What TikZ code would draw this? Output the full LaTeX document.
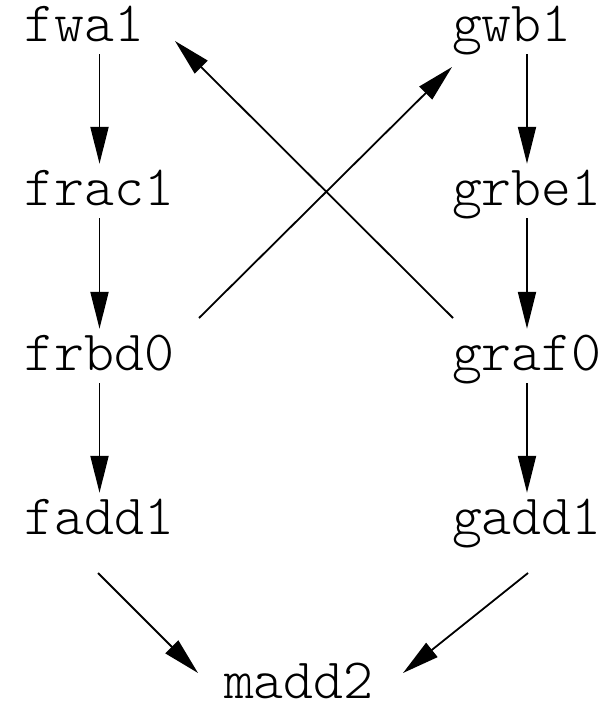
\documentclass[tikz,border=0pt]{standalone}
\usepackage{fontspec}
\newfontfamily\lblfont{Latin Modern Mono Light}
\usetikzlibrary{arrows.meta}

\begin{document}
\begin{tikzpicture}[x=1pt, y=-1pt,
  lbl/.style={inner sep=0pt, text width=150pt, align=left,
    text height=41pt, text depth=13pt,
    font=\fontsize{57}{60}\selectfont\lblfont},
  sink/.style={lbl, text height=36pt, text depth=2pt},
  edge/.style={line width=1.8pt, -{Triangle[length=37pt, width=18pt]}}]
  % canvas
  \useasboundingbox (0,0) rectangle (608,704);

  % left chain
  \node[lbl] (fwa1)  at (99.5, 27)  {fwa1};
  \node[lbl] (frac1) at (99.5, 191) {frac1};
  \node[lbl] (frbd0) at (99.5, 356) {frbd0};
  \node[lbl] (fadd1) at (99.5, 520) {fadd1};
  % right chain
  \node[lbl] (gwb1)  at (527, 27)  {gwb1};
  \node[lbl] (grbe1) at (527, 191) {grbe1};
  \node[lbl] (graf0) at (527, 356) {graf0};
  \node[lbl] (gadd1) at (527, 520) {gadd1};
  % sink, its baseline at 698
  \node[sink] (madd2) at (299, 681) {madd2};

  % vertical edges
  \draw[edge] (fwa1)  -- (frac1);
  \draw[edge] (frac1) -- (frbd0);
  \draw[edge] (frbd0) -- (fadd1);
  \draw[edge] (gwb1)  -- (grbe1);
  \draw[edge] (grbe1) -- (graf0);
  \draw[edge] (graf0) -- (gadd1);

  % crossing edges
  \draw[edge] ([shift={(-74,-38)}]graf0.center) -- ([shift={(75.5,14)}]fwa1.center);
  \draw[edge] ([shift={(99.5,-38)}]frbd0.center) -- ([shift={(-75,40)}]gwb1.center);

  % edges into the sink
  \draw[edge] ([shift={(-1.5,53)}]fadd1.center) -- ([shift={(-101,-8)}]madd2.center);
  \draw[edge] ([shift={(1,53)}]gadd1.center) -- ([shift={(104,-8)}]madd2.center);
\end{tikzpicture}
\end{document}
